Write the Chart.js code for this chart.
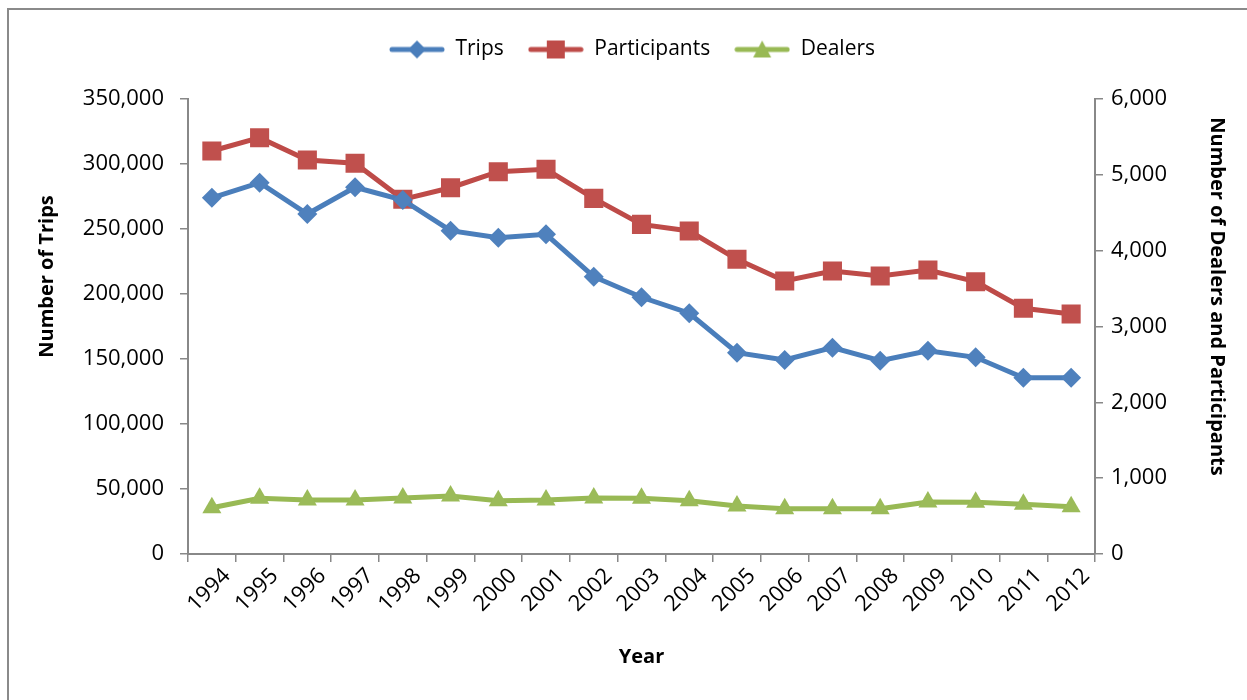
<!DOCTYPE html>
<html>
<head>
<meta charset="utf-8">
<script src="https://cdn.jsdelivr.net/npm/chart.js@4.4.1/dist/chart.umd.min.js"></script>
<style>
  html, body { margin: 0; padding: 0; background: #fff; }
  #wrap { position: relative; width: 1247px; height: 700px; overflow: hidden; }
  #frame { position: absolute; left: 7px; top: 8px; width: 1300px; height: 760px; border: 2px solid #8a8a8a; }
  canvas { position: absolute; left: 0; top: 0; }
</style>
</head>
<body>
<div id="wrap">
  <div id="frame"></div>
  <canvas id="tripChart" width="1247" height="700"></canvas>
</div>
<script>
// years on the x axis
const years = ['1994', '1995', '1996', '1997', '1998', '1999', '2000', '2001', '2002', '2003',
               '2004', '2005', '2006', '2007', '2008', '2009', '2010', '2011', '2012'];

// left axis: number of trips
const trips = [274000, 285600, 261500, 282100, 272300, 248700, 243300, 245900, 213300, 197500,
               185200, 154900, 149200, 158700, 148700, 156400, 151300, 135600, 135600];

// right axis: participants and dealers
const participants = [5314, 5490, 5196, 5152, 4677, 4830, 5041, 5073, 4690, 4347,
                      4259, 3886, 3600, 3732, 3666, 3745, 3591, 3240, 3165];
const dealers = [610, 734, 712, 712, 738, 765, 703, 712, 738, 734,
                 703, 633, 597, 597, 597, 686, 682, 655, 624];

const FONT = "'Open Sans', 'DejaVu Sans', sans-serif";
const EM = '\u2003';

// small line+marker icons for the legend, like the spreadsheet legend
function legendIcon(color, shape) {
    const c = document.createElement('canvas');
    c.width = 56; c.height = 22;
    const ctx = c.getContext('2d');
    ctx.strokeStyle = color;
    ctx.lineWidth = 5;
    ctx.lineCap = 'round';
    ctx.beginPath();
    ctx.moveTo(3, 11); ctx.lineTo(53, 11);
    ctx.stroke();
    ctx.fillStyle = color;
    ctx.beginPath();
    if (shape === 'diamond') {
        ctx.moveTo(28, 2); ctx.lineTo(37, 11); ctx.lineTo(28, 20); ctx.lineTo(19, 11);
    } else if (shape === 'square') {
        ctx.rect(19, 2, 18, 18);
    } else {
        ctx.moveTo(28, 2); ctx.lineTo(37, 19); ctx.lineTo(19, 19);
    }
    ctx.closePath();
    ctx.fill();
    return c;
}
const icons = [
    legendIcon('#4a7ebb', 'diamond'),
    legendIcon('#be4b48', 'square'),
    legendIcon('#98b954', 'triangle')
];

const ctx = document.getElementById('tripChart').getContext('2d');

const myChart = new Chart(ctx, {
    type: 'line',
    data: {
        labels: years,
        datasets: [{
            label: 'Trips',
            data: trips,
            yAxisID: 'y',
            borderColor: '#4a7ebb',
            backgroundColor: '#4f81bd',
            borderWidth: 5,
            pointStyle: 'rectRot',
            pointRadius: 10,
            pointBorderWidth: 0
        }, {
            label: 'Participants',
            data: participants,
            yAxisID: 'y1',
            borderColor: '#be4b48',
            backgroundColor: '#c0504d',
            borderWidth: 5,
            pointStyle: 'rect',
            pointRadius: 13.5,
            pointBorderWidth: 0
        }, {
            label: 'Dealers',
            data: dealers,
            yAxisID: 'y1',
            borderColor: '#98b954',
            backgroundColor: '#9bbb59',
            borderWidth: 5,
            pointStyle: 'triangle',
            pointRadius: 11,
            pointBorderWidth: 0
        }]
    },
    options: {
        responsive: false,
        animation: false,
        layout: { padding: { left: 35, right: 18, top: 15, bottom: 0 } },
        plugins: {
            tooltip: { enabled: false },
            legend: {
                position: 'top',
                labels: {
                    usePointStyle: true,
                    pointStyleWidth: 56,
                    color: '#000',
                    padding: 24,
                    font: { family: FONT, size: 21 },
                    generateLabels: function (chart) {
                        const items = Chart.defaults.plugins.legend.labels.generateLabels(chart);
                        items.forEach(function (it, i) { it.pointStyle = icons[i]; });
                        return items;
                    }
                }
            },
            // empty spacer between legend and plot
            subtitle: {
                display: true,
                text: '',
                position: 'top',
                weight: 0,
                font: { size: 10 },
                padding: { top: 0, bottom: 17 }
            }
        },
        scales: {
            x: {
                offset: true,
                afterFit: function (scale) { scale.height = 146; },
                grid: { offset: true, drawOnChartArea: false, drawTicks: true, tickLength: 8, color: '#888', lineWidth: 1.5 },
                border: { color: '#888', width: 2 },
                ticks: {
                    color: '#000',
                    font: { family: FONT, size: 22 },
                    minRotation: 45,
                    maxRotation: 45,
                    labelOffset: 15,
                    padding: 1
                },
                title: {
                    display: true,
                    text: 'Year',
                    color: '#000',
                    font: { family: FONT, size: 20, weight: 'bold' },
                    padding: { top: 4, bottom: 31 }
                }
            },
            y: {
                position: 'left',
                min: 0,
                max: 350000,
                afterFit: function (scale) { scale.width = 153; },
                grid: { drawOnChartArea: false, drawTicks: true, tickLength: 8, color: '#888', lineWidth: 1.5 },
                border: { color: '#888', width: 2 },
                ticks: {
                    stepSize: 50000,
                    color: '#000',
                    padding: 16,
                    font: { family: FONT, size: 22 },
                    callback: function (v) { return v.toLocaleString('en-US'); }
                },
                title: {
                    display: true,
                    text: EM + EM + EM + EM + EM + 'Number of Trips',
                    color: '#000',
                    font: { family: FONT, size: 20, weight: 'bold' },
                    padding: { top: 0, bottom: 0 }
                }
            },
            y1: {
                position: 'right',
                min: 0,
                max: 6000,
                afterFit: function (scale) { scale.width = 134; },
                grid: { drawOnChartArea: false, drawTicks: true, tickLength: 8, color: '#888', lineWidth: 1.5 },
                border: { color: '#888', width: 2 },
                ticks: {
                    stepSize: 1000,
                    color: '#000',
                    padding: 8,
                    font: { family: FONT, size: 22 },
                    callback: function (v) { return v.toLocaleString('en-US'); }
                },
                title: {
                    display: true,
                    text: 'Number of Dealers and Participants' + EM + EM + EM,
                    color: '#000',
                    font: { family: FONT, size: 20, weight: 'bold' },
                    padding: { top: 0, bottom: 0 }
                }
            }
        }
    }
});
</script>
</body>
</html>
